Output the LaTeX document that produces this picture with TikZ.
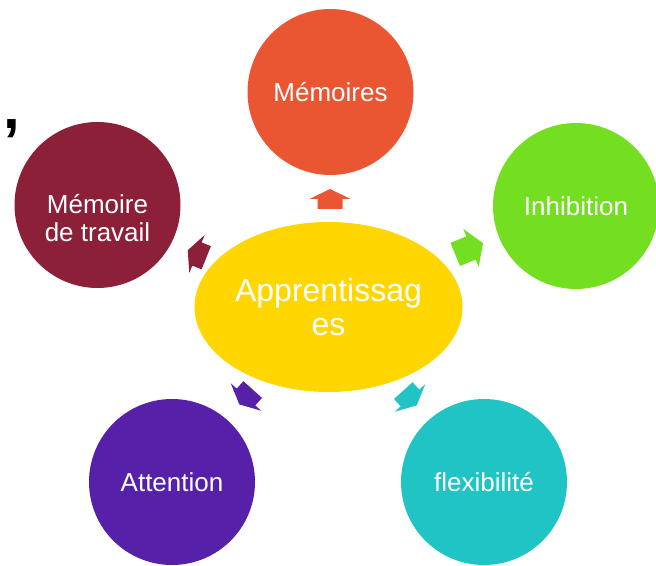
\documentclass[tikz,border=0pt]{standalone}
\usepackage{fontspec}
\setmainfont{Liberation Sans}
\usetikzlibrary{shapes.geometric}
\definecolor{memo}{RGB}{234,86,50}
\definecolor{inhib}{RGB}{116,223,32}
\definecolor{flex}{RGB}{33,196,196}
\definecolor{atten}{RGB}{86,33,168}
\definecolor{travail}{RGB}{139,32,56}
\definecolor{appr}{RGB}{255,214,0}
\tikzset{
  bulle/.style={circle, fill=#1, minimum size=166pt, inner sep=0pt, text=white,
    align=center, font=\fontsize{26}{28}\selectfont},
  fleche/.style={fill=#1}
}
\begin{document}
\begin{tikzpicture}[x=1pt,y=1pt]
        \useasboundingbox (0,0) rectangle (656,565);
        \node [bulle=memo] (memoires) at (330.5,473) {Mémoires};
        \node [bulle=inhib] (inhibition) at (576,359) {Inhibition};
        \node [bulle=flex] (flexibilite) at (484,83) {flexibilité};
        \node [bulle=atten] (attention) at (172,83) {Attention};
        \node [bulle=travail] (travail) at (97.5,360) {};
        \node [text=white, align=center, font=\fontsize{26}{28}\selectfont] (travailtxt)
          at ([yshift=-13pt]travail.center) {Mémoire\\de travail};
        \node [ellipse, fill=appr, minimum width=268pt, minimum height=170pt, inner sep=0pt,
          text=white, align=center, font=\fontsize{32}{34}\selectfont] (apprentissages) at (328.5,258) {Apprentissag\\es};
        \node [anchor=base, inner sep=0pt, font=\bfseries\fontsize{60}{60}\selectfont] (virgule) at (11.5,436) {,};
        % petites fleches
        \foreach \x/\y/\a/\c/\s/\h in {330/366/90/memo/10/10, 471/317/22/inhib/17/13, 197/311/158/travail/10/10,
            246/168/-132/atten/10/10, 410/167/-48/flex/10/10}
          \fill [fleche=\c, shift={(\x,\y)}, rotate=\a] (-\s,-12.5) -- (0,-12.5) -- (0,-20.5)
            -- (\h,0) -- (0,20.5) -- (0,12.5) -- (-\s,12.5) -- cycle;
      \end{tikzpicture}
\end{document}
